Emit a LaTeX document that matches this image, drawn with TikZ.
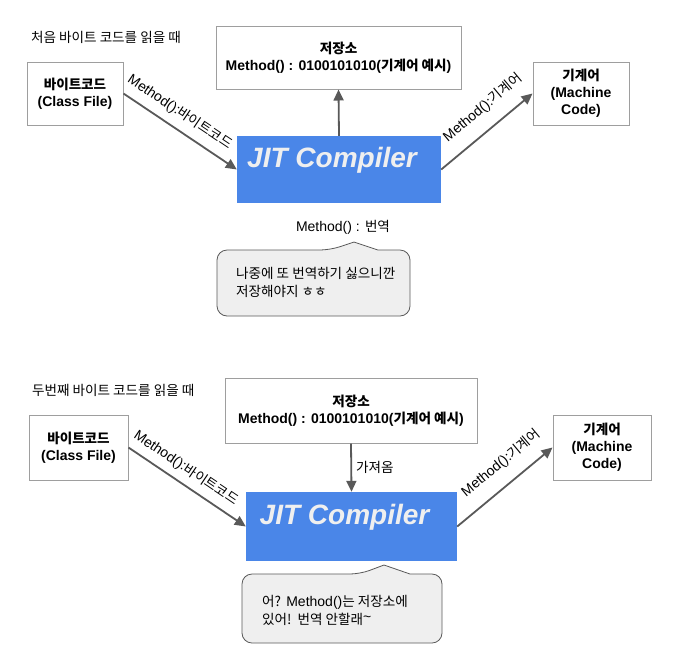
\documentclass[tikz,border=0pt]{standalone}
\usepackage{fontspec}
\setmainfont{Liberation Sans}
\newfontfamily\krfont{Noto Sans CJK KR}[Scale=0.97]
\newcommand\kr[1]{{\krfont #1}}
\usetikzlibrary{arrows.meta}
\definecolor{jitblue}{HTML}{4A86E8}
\definecolor{arrowgray}{HTML}{595959}
\definecolor{boxgray}{HTML}{9E9E9E}
\definecolor{calloutfill}{HTML}{EFEFEF}
\definecolor{jittext}{HTML}{EFEFEF}
\tikzset{
  whitebox/.style={draw=boxgray, line width=1pt, fill=white, inner sep=0pt, align=center,
    font=\fontsize{14}{17}\selectfont\bfseries},
  jitbox/.style={fill=jitblue, draw=none, inner sep=0pt},
  jitlabel/.style={text=jittext, inner sep=0pt, font=\fontsize{28}{30}\selectfont\bfseries\itshape},
  conn/.style={draw=arrowgray, line width=1.8pt, -{Triangle[length=11pt,width=10pt]}},
  connlabel/.style={font=\fontsize{14}{16}\selectfont, inner sep=2pt, text=black},
  callout/.style={draw=arrowgray, line width=0.8pt, fill=calloutfill},
  plain/.style={font=\fontsize{14}{18}\selectfont, inner sep=0pt, align=left, text=black},
}
\begin{document}
\begin{tikzpicture}[x=1pt, y=1pt]
\useasboundingbox (0,0) rectangle (695,-665);

% ---------- top section ----------
\node[plain, anchor=west] (title1) at (31,-37) {\kr{처음 바이트 코드를 읽을 때}};

\node[whitebox, minimum width=96pt, minimum height=63pt] (bc1) at (75,-93.5)
  {\kr{바이트코드}\\(Class File)};
\node[whitebox, minimum width=245pt, minimum height=63pt] (st1) at (338.5,-57.5)
  {\kr{저장소}\\Method() : 0100101010(\kr{기계어 예시})};
\node[jitbox, minimum width=204pt, minimum height=67pt] (jit1) at (339,-169.5) {};
\node[jitlabel] (jt1) at ([xshift=-7pt, yshift=9.5pt]jit1.center) {JIT Compiler};
\node[whitebox, minimum width=96pt, minimum height=63pt] (mc1) at (581,-93.5)
  {\kr{기계어}\\(Machine\\Code)};

\draw[conn] (bc1.east) -- node[connlabel, pos=0.42, above=6pt, sloped] {Method():\kr{바이트코드}} (jit1.west);
\draw[conn] (jit1.north) -- (st1.south);
\draw[conn] (jit1.east) -- node[connlabel, pos=0.6, above=11pt, sloped] {Method():\kr{기계어}} (mc1.west);

\node[plain] (tr1) at (343,-227) {Method() : \kr{번역}};

\draw[callout, rounded corners=10pt] (310,-316) -- (217,-316) -- (217,-250) -- (330,-250)
  [sharp corners] -- (354,-242) -- (378,-250) [rounded corners=10pt] -- (410,-250) -- (410,-316) -- cycle;
\node[plain, anchor=west] (c1) at (236,-282) {\kr{나중에 또 번역하기 싫으니깐}\\\kr{저장해야지 ㅎㅎ}};

% ---------- bottom section ----------
\node[plain, anchor=west] (title2) at (32,-390) {\kr{두번째 바이트 코드를 읽을 때}};

\node[whitebox, minimum width=99pt, minimum height=65pt] (bc2) at (78.5,-447.5)
  {\kr{바이트코드}\\(Class File)};
\node[whitebox, minimum width=252pt, minimum height=65pt] (st2) at (351,-410.5)
  {\kr{저장소}\\Method() : 0100101010(\kr{기계어 예시})};
\node[jitbox, minimum width=211pt, minimum height=69pt] (jit2) at (351.5,-526.5) {};
\node[jitlabel] (jt2) at ([xshift=-7pt, yshift=9.5pt]jit2.center) {JIT Compiler};
\node[whitebox, minimum width=98pt, minimum height=65pt] (mc2) at (602,-447.5)
  {\kr{기계어}\\(Machine\\Code)};

\draw[conn] (bc2.east) -- node[connlabel, pos=0.42, above=5pt, sloped] {Method():\kr{바이트코드}} (jit2.west);
\draw[conn] (st2.south) -- node[connlabel, midway, right, xshift=2pt] {\kr{가져옴}} (jit2.north);
\draw[conn] (jit2.east) -- node[connlabel, pos=0.6, above=11pt, sloped] {Method():\kr{기계어}} (mc2.west);

\draw[callout, rounded corners=10pt] (340,-643) -- (242,-643) -- (242,-574) -- (360,-574)
  [sharp corners] -- (384,-565) -- (410,-574) [rounded corners=10pt] -- (442,-574) -- (442,-643) -- cycle;
\node[plain, anchor=west] (c2) at (262,-610) {\kr{어?} Method()\kr{는 저장소에}\\\kr{있어!\ \ 번역 안할래}\raisebox{0.3ex}{\textasciitilde}};
\end{tikzpicture}
\end{document}
